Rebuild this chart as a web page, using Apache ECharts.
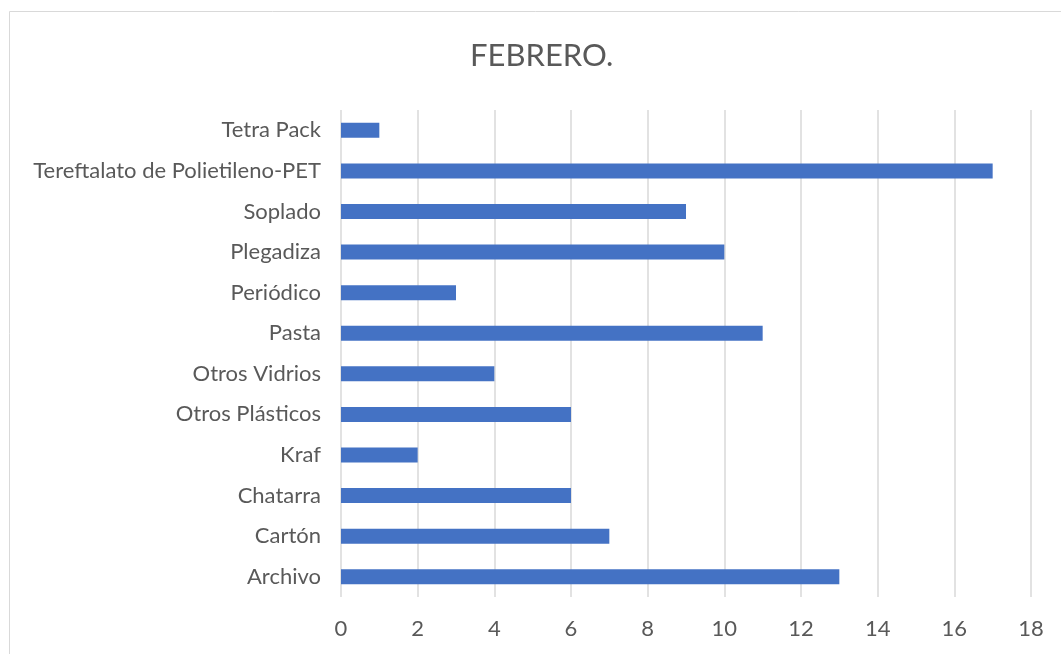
<!DOCTYPE html>
<html>
<head>
<meta charset="utf-8">
<script src="https://cdn.jsdelivr.net/npm/echarts@6/dist/echarts.min.js"></script>
<style>
  html, body { margin: 0; padding: 0; background: #fff; }
  #main { width: 1061px; height: 654px; }
</style>
</head>
<body>
<div id="main"></div>
<script>
const categories = [
  'Archivo', 'Cartón', 'Chatarra', 'Kraf', 'Otros Plásticos', 'Otros Vidrios',
  'Pasta', 'Periódico', 'Plegadiza', 'Soplado', 'Tereftalato de Polietileno-PET', 'Tetra Pack'
];
const values = [13, 7, 6, 2, 6, 4, 11, 3, 10, 9, 17, 1];

const font = 'Lato, "Open Sans", sans-serif';

const myChart = echarts.init(document.getElementById('main'));
myChart.setOption({
  animation: false,
  title: {
    text: 'FEBRERO.',
    left: 465,
    top: 35,
    textStyle: { fontFamily: font, fontSize: 31, fontWeight: 'normal', color: '#595959' }
  },
  graphic: [{
    type: 'rect',
    shape: { x: 9.5, y: 11.5, width: 1100, height: 700 },
    style: { fill: 'none', stroke: '#d9d9d9', lineWidth: 1 },
    silent: true
  }],
  grid: { left: 341, right: 30, top: 110, bottom: 57 },
  xAxis: {
    type: 'value',
    min: 0,
    max: 18,
    interval: 2,
    axisLine: { show: false },
    axisTick: { show: false },
    axisLabel: { fontFamily: font, fontSize: 22, color: '#595959', margin: 21 },
    splitLine: { lineStyle: { color: '#d9d9d9', width: 1.5 } }
  },
  yAxis: {
    type: 'category',
    data: categories,
    axisLine: { show: false },
    axisTick: { show: false },
    axisLabel: { fontFamily: font, fontSize: 22, color: '#595959', margin: 20 }
  },
  series: [{
    type: 'bar',
    data: values,
    barWidth: 15,
    itemStyle: { color: '#4472c4' }
  }]
});
</script>
</body>
</html>
